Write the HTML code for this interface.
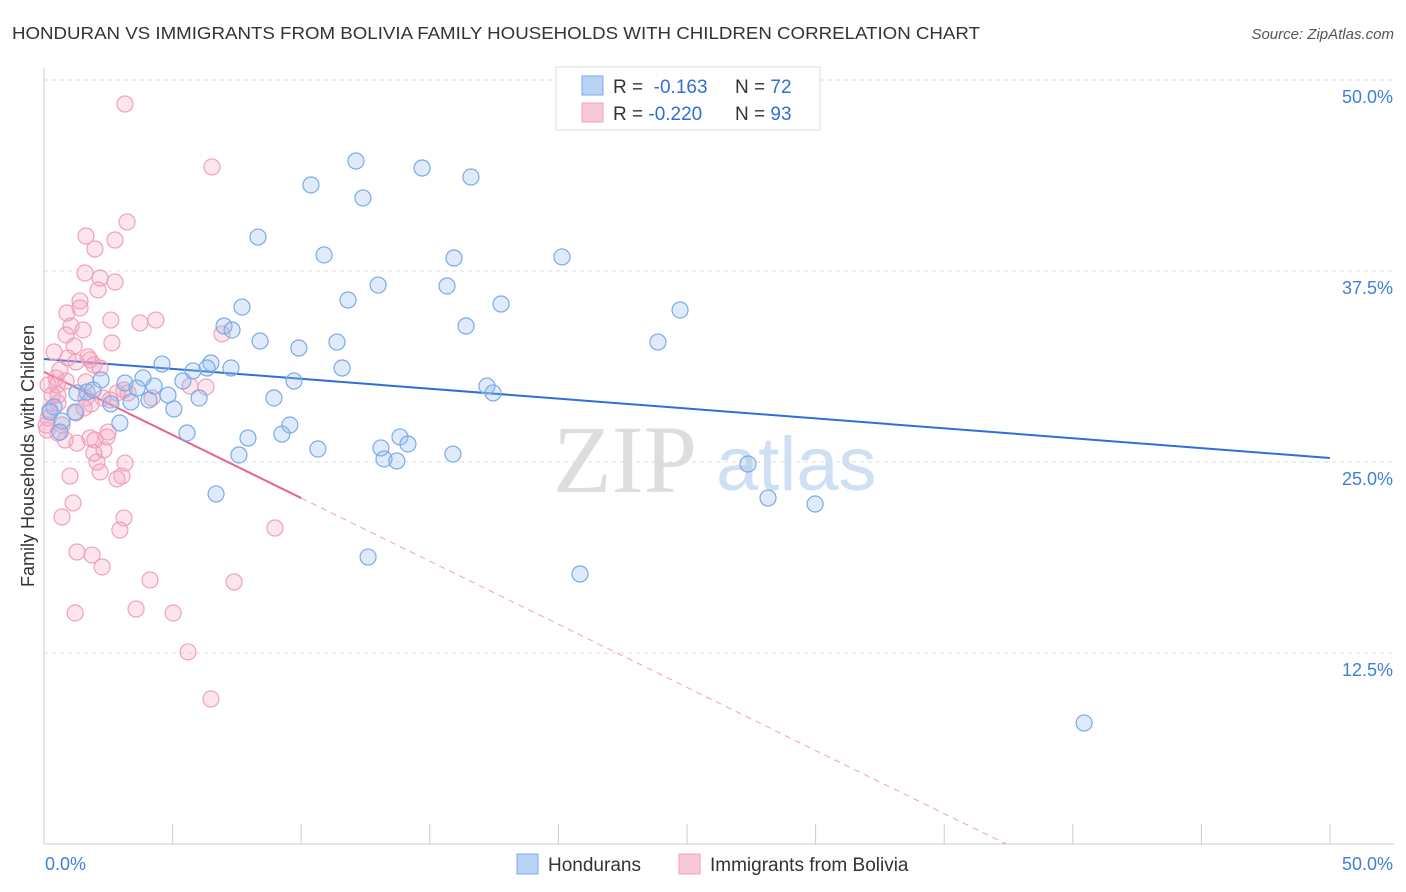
<!DOCTYPE html>
<html><head><meta charset="utf-8"><style>
body{margin:0;background:#fff;font-family:"Liberation Sans",sans-serif}
svg{display:block}
</style></head><body>
<svg id="c" width="1406" height="892" xmlns="http://www.w3.org/2000/svg">
<text x="12" y="39" font-size="17.5" fill="#333" textLength="968" lengthAdjust="spacingAndGlyphs">HONDURAN VS IMMIGRANTS FROM BOLIVIA FAMILY HOUSEHOLDS WITH CHILDREN CORRELATION CHART</text>
<text x="1394" y="39" font-size="15" fill="#555" font-style="italic" text-anchor="end">Source: ZipAtlas.com</text>
<text x="34" y="456" font-size="18" fill="#333" text-anchor="middle" transform="rotate(-90 34 456)">Family Households with Children</text>
<g><text x="553" y="492" font-size="96" font-family="Liberation Serif,serif" fill="#ddd">ZIP</text><text x="716" y="490" font-size="76" fill="#cfe0f5">atlas</text></g>
<g id="grid"></g><g id="axes"></g><g id="trend"></g><g id="pts"></g>
<g>
<rect x="556" y="67" width="264" height="63" fill="#fff" stroke="#ddd"/>
<rect x="582" y="76" width="21" height="19" fill="#b9d3f5" stroke="#7aaae8"/>
<rect x="582" y="103" width="21" height="19" fill="#f9c9d8" stroke="#f0a0bc"/>
<text x="613" y="93" font-size="19" fill="#333">R = <tspan fill="#2f6fd6">&#160;-0.163</tspan><tspan x="735">N = </tspan><tspan fill="#2f6fd6">72</tspan></text>
<text x="613" y="120" font-size="19" fill="#333">R = <tspan fill="#2f6fd6">-0.220</tspan><tspan x="735">N = </tspan><tspan fill="#2f6fd6">93</tspan></text>
</g>
<g>
<rect x="517" y="854" width="21" height="20" fill="#b9d3f5" stroke="#7aaae8"/>
<text x="548" y="871" font-size="19" fill="#333">Hondurans</text>
<rect x="679" y="854" width="21" height="20" fill="#f9c9d8" stroke="#f0a0bc"/>
<text x="710" y="871" font-size="19" fill="#333">Immigrants from Bolivia</text>
</g>
</svg>
<script>
const blueX=[10.38,12.13,12.40,14.70,16.60,8.32,10.89,12.99,11.82,15.67,15.94,20.14,17.77,16.41,24.73,23.87,7.70,7.00,8.40,9.91,11.39,11.59,4.59,6.49,7.27,5.79,6.34,5.40,4.28,3.85,3.15,2.22,9.72,17.22,17.46,8.94,9.56,6.03,4.82,4.08,3.38,2.60,1.67,1.28,0.39,0.70,1.21,2.95,5.56,7.93,9.25,10.65,13.10,13.84,14.15,13.22,13.72,15.90,7.58,6.69,12.60,20.84,27.37,28.15,29.98,40.44,5.05,0.23,0.62,1.91,7.31,3.62];
const blueY=[43.13,44.70,42.28,44.24,43.65,39.72,38.55,36.58,35.60,36.52,38.35,38.42,35.34,33.90,34.95,32.85,35.14,33.90,32.92,32.46,32.85,31.15,31.41,31.48,31.15,30.96,31.15,30.30,29.97,30.50,30.17,30.37,30.30,29.97,29.52,29.19,27.42,29.19,29.38,29.06,28.93,28.80,29.58,29.52,28.60,27.68,28.27,27.55,26.90,26.57,26.83,25.85,25.92,26.64,26.18,25.20,25.07,25.52,25.46,22.91,18.78,17.67,24.87,22.64,22.25,7.92,28.47,28.27,26.96,29.71,33.64,29.84];
const pinkX=[3.15,6.53,3.23,1.63,2.76,1.98,1.59,2.18,2.76,2.10,1.40,1.40,0.89,2.60,1.05,1.52,0.86,4.35,3.73,6.92,2.64,0.39,0.93,1.71,1.24,1.94,2.18,0.62,0.47,0.16,0.51,1.63,3.11,3.27,6.30,5.68,2.84,2.29,1.63,1.83,0.54,0.23,1.24,0.16,0.70,0.12,0.54,2.49,2.45,1.79,1.28,1.94,2.06,3.15,2.18,2.84,3.03,1.01,1.13,0.70,3.11,2.95,8.98,1.28,1.87,2.26,4.12,7.39,3.58,1.21,5.02,5.60,6.49,0.31,0.86,1.17,1.79,0.54,0.08,2.57,1.56,4.20,0.82,1.98,2.33];
const pinkY=[48.43,44.31,40.71,39.79,39.53,38.94,37.37,37.04,36.78,36.26,35.54,35.08,34.75,34.29,33.90,33.64,33.31,34.29,34.10,33.38,32.79,32.20,31.81,31.87,31.54,31.35,31.15,31.02,30.50,30.04,30.04,30.24,29.71,29.52,29.91,29.97,29.52,29.19,29.19,28.80,28.86,28.40,28.21,27.88,27.42,27.09,26.90,26.96,26.64,26.57,26.24,25.59,25.00,24.93,24.35,23.89,24.08,24.08,22.32,21.40,21.34,20.55,20.68,19.11,18.91,18.13,17.28,17.15,15.38,15.12,15.12,12.57,9.49,29.38,30.30,32.59,31.68,29.38,27.42,29.06,28.53,29.19,26.44,26.44,25.79];
const blueTrend=[31.74,-0.1296];
const pinkTrend=[30.9,-0.826];
const yTicks=[12.5,25,37.5,50];
const yTickLabels=["12.5%","25.0%","37.5%","50.0%"];

const NS="http://www.w3.org/2000/svg";
const X0=44,X1=1330,Y0=844,Y1=80;
const sx=v=>X0+v/50*(X1-X0), sy=v=>Y0-v/50*(Y0-Y1);
function mk(t,a,p){const e=document.createElementNS(NS,t);for(const k in a)e.setAttribute(k,a[k]);p.appendChild(e);return e;}
const grid=document.getElementById('grid'),axes=document.getElementById('axes'),trend=document.getElementById('trend'),pts=document.getElementById('pts');
yTicks.forEach((v,i)=>{
 const l=mk('line',{x1:X0,x2:1394,y1:sy(v),y2:sy(v),stroke:'#ddd','stroke-dasharray':'4 4'},grid);
 
 
 const t=mk('text',{x:1393,y:sy(v)+23,'font-size':18,fill:'#3f7fd8','text-anchor':'end'},axes);
 t.textContent=yTickLabels[i];
 
 
});
let a=mk('line',{x1:X0,x2:X0,y1:68,y2:Y0,stroke:'#ccc'},axes);


a=mk('line',{x1:X0,x2:1394,y1:Y0,y2:Y0,stroke:'#ccc'},axes);


for(let v=0;v<=50;v+=5){
 const t=mk('line',{x1:sx(v),x2:sx(v),y1:v==0?Y0:Y0-20,y2:Y0,stroke:'#ccc'},axes);
 
 
}
[[0,"0.0%","start",45],[50,"50.0%","end",1393]].forEach(d=>{
 const t=mk('text',{x:d[3],y:870,'font-size':18,fill:'#3f7fd8','text-anchor':d[2]},axes);
 t.textContent=d[1];
 
 
});
function drawPts(xs,ys,fill,stroke,name){
 xs.forEach((x,i)=>{
  const c=mk('circle',{cx:sx(x),cy:sy(ys[i]),r:8,fill:fill,stroke:stroke,'stroke-width':1.2},pts);
  
  
 });
}
drawPts(pinkX,pinkY,'rgba(245,160,190,0.28)','#f0a0bc','bolivia-point');
drawPts(blueX,blueY,'rgba(150,190,240,0.3)','#7aaae8','honduran-point');
let tl=mk('line',{x1:sx(0),y1:sy(blueTrend[0]),x2:sx(50),y2:sy(blueTrend[0]+50*blueTrend[1]),stroke:'#2f6fd6','stroke-width':2},trend);


const pz=-pinkTrend[0]/pinkTrend[1];
tl=mk('line',{x1:sx(0),y1:sy(pinkTrend[0]),x2:sx(10),y2:sy(pinkTrend[0]+10*pinkTrend[1]),stroke:'#e8638e','stroke-width':2},trend);


tl=mk('line',{x1:sx(10),y1:sy(pinkTrend[0]+10*pinkTrend[1]),x2:sx(pz),y2:sy(0),stroke:'#eea0b8','stroke-width':1,'stroke-dasharray':'6 5'},trend);


</script>
</body></html>
